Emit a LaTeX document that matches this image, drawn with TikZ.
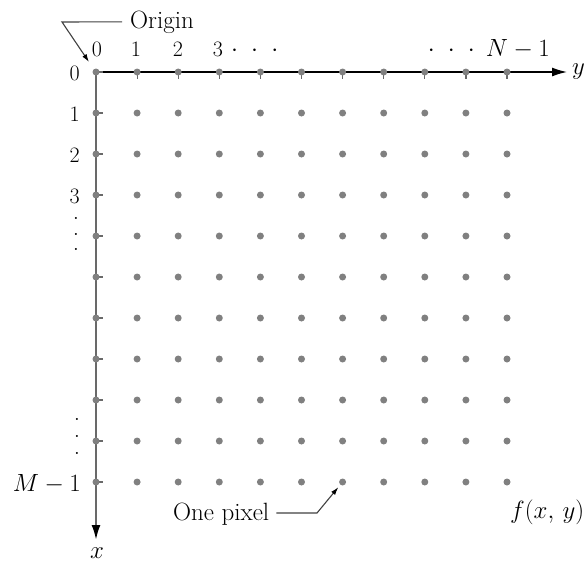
\documentclass[tikz,border=0pt]{standalone}
\usetikzlibrary{arrows.meta}
\definecolor{pixgray}{RGB}{128,128,128}
\definecolor{axgray}{RGB}{105,105,105}
\newcommand{\myvdots}[1]{\vbox{\baselineskip=#1\lineskiplimit=-10pt\hbox{.}\hbox{.}\hbox{.}}}
\newcommand{\spdots}{\cdotp\hspace{9pt}\cdotp\hspace{9pt}\cdotp}
\begin{document}
\begin{tikzpicture}[x=1pt,y=-1pt,
  font=\fontsize{25}{29}\selectfont,
  pix/.style={circle,fill=pixgray,inner sep=0pt,minimum size=7pt},
  lbl/.style={inner sep=0pt},
  num/.style={inner sep=0pt,font=\fontsize{22}{26}\selectfont},
  ticks/.style={draw=axgray,line width=1.2pt},
  leader/.style={draw=black!75,line width=1.1pt,-{Latex[length=8pt,width=5pt,color=black]}}]
\useasboundingbox (0,0) rectangle (584,563);
% axes
\coordinate (O) at (96,72);
\coordinate (yend) at (567,72);
\coordinate (xend) at (96,540);
\draw[black,line width=1.3pt,-{Latex[length=15pt,width=9pt]}] (O) -- (yend);
\draw[axgray,line width=2.2pt,-{Latex[length=15pt,width=9pt,color=black]}] (O) -- (xend);
% ticks
\foreach \j in {0,...,10}
  \draw[ticks] ({96+41.1*\j},72) -- ++(0,7);
\foreach \i in {0,...,10}
  \draw[ticks] (96,{72+41*\i}) -- ++(7,0);
% pixels
\foreach \i in {0,...,10}
  \foreach \j in {0,...,10}
    \node[pix] (d-\i-\j) at ({96+41.1*\j},{72+41*\i}) {};
% axis names
\node[lbl,anchor=west] (ylab) at (572,72) {$y$};
\node[lbl,anchor=base] (xlab) at (97,558) {$x$};
% column labels
\node[num,anchor=base] (c0) at (97,56) {0};
\node[num,anchor=base] (c1) at (136,56) {1};
\node[num,anchor=base] (c2) at (178,56) {2};
\node[num,anchor=base] (c3) at (218,56) {3};
\node[lbl,anchor=base west] (cdots) at (231,56) {$\spdots$};
\node[lbl,anchor=base east] (cN) at (550,56) {$\spdots\; N-1$};
% row labels
\node[num,anchor=base east] (r0) at (80,80) {0};
\node[num,anchor=base east] (r1) at (80,121) {1};
\node[num,anchor=base east] (r2) at (80,162) {2};
\node[num,anchor=base east] (r3) at (80,203) {3};
\node[lbl] (rdots1) at (76,234) {\myvdots{15.5pt}};
\node[lbl] (rdots2) at (77,436) {\myvdots{17pt}};
\node[lbl,anchor=base east] (rM) at (81,491) {$M-1$};
% origin callout
\node[lbl,anchor=base west] (origin) at (130,28) {Origin};
\coordinate (obend) at (62,22);
\coordinate (otip) at (89,62);
\draw[leader] ([xshift=-8pt]origin.west) -- (obend) -- (otip);
% one pixel callout
\node[lbl,anchor=base west] (onepix) at (173,520) {One pixel};
\coordinate (pbend) at (317,513);
\draw[leader,shorten >=3pt] ([xshift=7pt]onepix.east |- pbend) -- (pbend) -- (d-10-6);
% image function
\node[lbl,anchor=base west] (fxy) at (510,518) {$f(x,\,y)$};
\end{tikzpicture}
\end{document}
